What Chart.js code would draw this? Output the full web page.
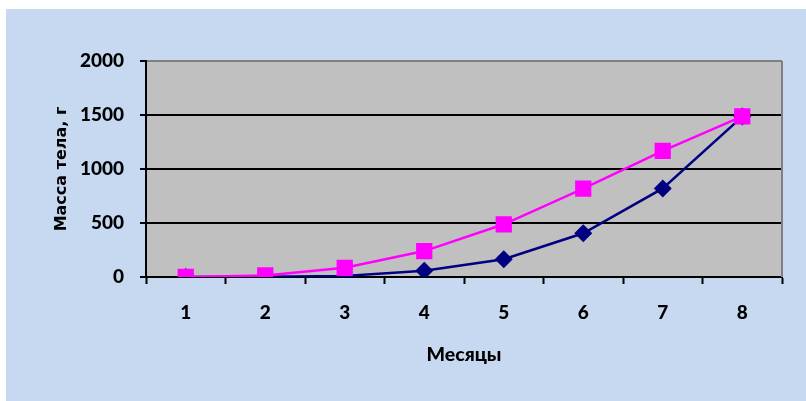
<!DOCTYPE html>
<html>
<head>
<meta charset="utf-8">
<script src="https://cdn.jsdelivr.net/npm/chart.js@4/dist/chart.umd.min.js"></script>
<style>
  html, body { margin: 0; padding: 0; background: #ffffff; }
  canvas { display: block; }
</style>
</head>
<body>
<canvas id="c" width="806" height="401"></canvas>
<script>
const months = ['1', '2', '3', '4', '5', '6', '7', '8'];
const massNavy = [0, 3, 10, 58, 165, 405, 820, 1485];
const massPink = [0, 15, 85, 240, 488, 818, 1168, 1488];
const yTicks = [0, 500, 1000, 1500, 2000];
const xTitle = 'Месяцы';
const yTitle = 'Масса тела, г';

const bgPlugin = {
  id: 'bg',
  beforeDraw(chart) {
    const ctx = chart.ctx;
    const a = chart.chartArea;
    ctx.save();
    ctx.fillStyle = '#C6D9F1';
    ctx.fillRect(6, 9, chart.width - 6, chart.height - 9);
    ctx.fillStyle = '#C0C0C0';
    ctx.fillRect(a.left, a.top, a.right - a.left, a.bottom - a.top);
    ctx.restore();
  },
  beforeDatasetsDraw(chart) {
    const ctx = chart.ctx;
    const a = chart.chartArea;
    ctx.save();
    ctx.strokeStyle = '#808080';
    ctx.lineWidth = 2;
    ctx.beginPath();
    ctx.moveTo(a.right, a.top);
    ctx.lineTo(a.right, a.bottom);
    ctx.stroke();
    ctx.restore();
  }
};

const tickFont = { family: 'Lato, "Open Sans", sans-serif', size: 19, weight: 900 };
const xTitleFont = { family: 'Lato, "Open Sans", sans-serif', size: 19.5, weight: 900 };

new Chart(document.getElementById('c'), {
  type: 'line',
  data: {
    labels: months,
    datasets: [
      {
        data: massPink,
        order: 0,
        borderColor: '#FF00FF',
        backgroundColor: '#FF00FF',
        borderWidth: 2.5,
        pointStyle: 'rect',
        pointRadius: 11.5,
        pointBorderWidth: 0,
        tension: 0
      },
      {
        data: massNavy,
        order: 1,
        borderColor: '#000080',
        backgroundColor: '#000080',
        borderWidth: 2.5,
        pointStyle: 'rectRot',
        pointRadius: 9,
        pointBorderWidth: 0,
        tension: 0
      }
    ]
  },
  options: {
    responsive: false,
    animation: false,
    devicePixelRatio: 1,
    layout: { padding: { left: 0, top: 61, right: 24, bottom: 0 } },
    plugins: { legend: { display: false }, tooltip: { enabled: false } },
    scales: {
      x: {
        type: 'category',
        offset: true,
        afterFit(scale) { scale.height = 124; },
        grid: {
          offset: true,
          drawOnChartArea: false,
          drawTicks: true,
          tickLength: 7,
          tickColor: '#000000',
          tickWidth: 2
        },
        border: { display: true, color: '#000000', width: 2 },
        ticks: { color: '#000000', font: tickFont, padding: 17, maxRotation: 0 },
        title: {
          display: true,
          text: xTitle,
          color: '#000000',
          font: xTitleFont,
          padding: { top: 0, bottom: 35 }
        }
      },
      y: {
        min: 0,
        max: 2000,
        afterFit(scale) { scale.width = 146; },
        afterBuildTicks(scale) { scale.ticks = yTicks.map(v => ({ value: v })); },
        grid: {
          color: (c) => (c.tick && c.tick.value === 2000) ? '#808080' : '#000000',
          lineWidth: 2,
          drawTicks: true,
          tickLength: 6,
          tickColor: '#000000',
          tickWidth: 2
        },
        border: { display: true, color: '#000000', width: 2 },
        ticks: {
          color: '#000000',
          font: tickFont,
          padding: 16,
          callback: (v) => String(v)
        },
        title: {
          display: true,
          text: yTitle,
          color: '#000000',
          font: { family: '"DejaVu Sans", sans-serif', size: 16, weight: 'bold' },
          padding: { top: 52, bottom: 0 }
        }
      }
    }
  },
  plugins: [bgPlugin]
});
</script>
</body>
</html>
